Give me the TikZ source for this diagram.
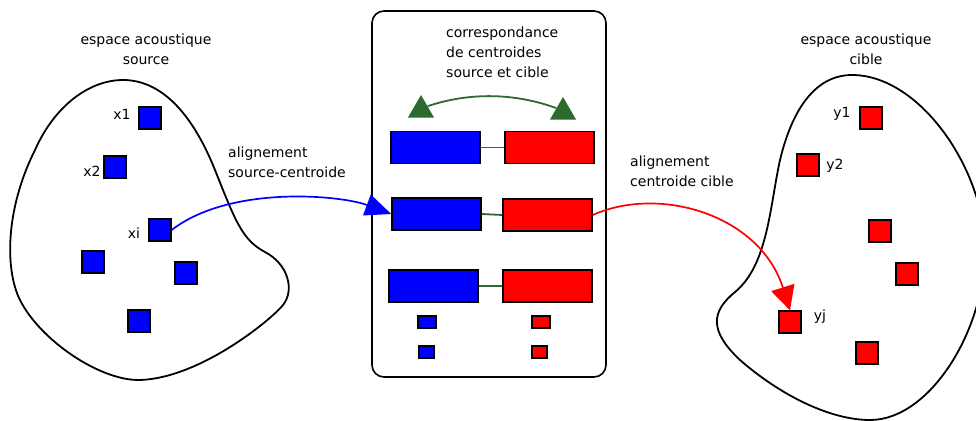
\documentclass[tikz,border=0pt]{standalone}
\usepackage{fontspec}
\setmainfont{DejaVu Sans}
\usetikzlibrary{shapes.geometric,arrows.meta,calc}
\definecolor{dgreen}{HTML}{2D6A2D}
\begin{document}
\begin{tikzpicture}[x=1pt,y=-1pt,
  blob/.style={draw=black,line width=1.8pt},
  sq/.style={draw=black,line width=1.3pt,minimum size=22pt,inner sep=0pt},
  bsq/.style={sq,fill=blue},
  rsq/.style={sq,fill=red},
  bar/.style={draw=black,line width=1.5pt,minimum width=89pt,minimum height=32pt,inner sep=0pt},
  bbar/.style={bar,fill=blue},
  rbar/.style={bar,fill=red},
  small/.style={draw=black,line width=1.3pt,minimum height=12pt,inner sep=0pt},
  lbl/.style={font=\fontsize{14}{20}\selectfont,inner sep=0pt},
  link/.style={draw=dgreen,line width=1.8pt},
  tri/.style={regular polygon,regular polygon sides=3,fill=dgreen,minimum size=30pt,inner sep=0pt},
]
\useasboundingbox (0,0) rectangle (976,420);
\clip (0,0) rectangle (976,420);

% left blob
\draw[blob] (123,80) .. controls (165,80) and (195,120) .. (215,170)
  .. controls (235,220) and (242,240) .. (265,252)
  .. controls (288,264) and (295,290) .. (283,305)
  .. controls (271,320) and (200,378) .. (140,380)
  .. controls (100,381) and (40,340) .. (20,300)
  .. controls (5,270) and (5,210) .. (35,150)
  .. controls (55,105) and (90,80) .. (123,80) -- cycle;
% right blob
\draw[blob] (852,75) .. controls (815,75) and (792,110) .. (780,160)
  .. controls (770,205) and (768,265) .. (735,292)
  .. controls (712,311) and (708,330) .. (740,360)
  .. controls (780,395) and (830,420) .. (870,420)
  .. controls (930,420) and (985,330) .. (985,250)
  .. controls (985,170) and (920,75) .. (852,75) -- cycle;

% titles
\node[lbl,align=center,anchor=north] (tl) at (146,34) {espace acoustique\\source};
\node[lbl,align=center,anchor=north] (tr) at (866,34) {espace acoustique\\cible};

% left squares
\node[bsq] (x1) at (150,118) {};
\node[bsq] (x2) at (115,167) {};
\node[bsq] (xi) at (160,230) {};
\node[bsq] (xa) at (93,262) {};
\node[bsq] (xb) at (186,273) {};
\node[bsq] (xc) at (139,321) {};
\node[lbl] (lx1) at (122,114) {x1};
\node[lbl] (lx2) at (92,171) {x2};
\node[lbl] (lxi) at (134,233) {xi};

% right squares
\node[rsq] (y1) at (871,118) {};
\node[rsq] (y2) at (808,165) {};
\node[rsq] (ya) at (880,231) {};
\node[rsq] (yb) at (907,274) {};
\node[rsq] (yj) at (790,322) {};
\node[rsq] (yc) at (867,353) {};
\node[lbl] (ly1) at (842,114) {y1};
\node[lbl] (ly2) at (835,166) {y2};
\node[lbl] (lyj) at (820,317) {yj};

% middle box
\node[draw=black,line width=1.6pt,rounded corners=12pt,minimum width=234pt,minimum height=366pt,inner sep=0pt] (box) at (489,194) {};
\node[lbl,align=left,anchor=north west] (ctext) at (446,27) {correspondance\\de centroides\\source et cible};

% green triangles and arc
\node[tri] (ga) at (421,110) {};
\node[tri] (gb) at (563,112) {};
\draw[link] ($(ga.corner 1)!0.5!(ga.corner 3)$) .. controls (470,92) and (515,93) .. ($(gb.corner 1)!0.5!(gb.corner 2)$);

% bars
\node[bbar] (b1) at (435.5,147.5) {};
\node[rbar] (r1) at (549.5,147.5) {};
\node[bbar] (b2) at (436.5,214) {};
\node[rbar] (r2) at (547.5,215) {};
\node[bbar] (b3) at (433.5,286) {};
\node[rbar] (r3) at (547.5,286) {};
\draw[link] (b1.east) -- (r1.west);
\draw[link] (b2.east) -- (r2.west);
\draw[link] (b3.east) -- (r3.west);

\node[small,fill=blue,minimum width=18pt] (sb1) at (427,322) {};
\node[small,fill=red,minimum width=18pt] (sr1) at (541,322) {};
\node[small,fill=blue,minimum width=15pt] (sb2) at (426.5,352) {};
\node[small,fill=red,minimum width=15pt] (sr2) at (539.5,352) {};

% arrows
\draw[blue,line width=1.7pt,-{Triangle[length=26pt,width=22pt]}] (xi.east) .. controls (230,185) and (340,195) .. (b2.west);
\draw[red,line width=1.7pt,-{Triangle[length=24pt,width=24pt]}] (r2.east) .. controls (660,185) and (760,215) .. (yj.north);

\node[lbl,align=left,anchor=north west] (al1) at (228,147) {alignement\\source-centroide};
\node[lbl,align=left,anchor=north west] (al2) at (630,156) {alignement\\centroide cible};
\end{tikzpicture}
\end{document}
